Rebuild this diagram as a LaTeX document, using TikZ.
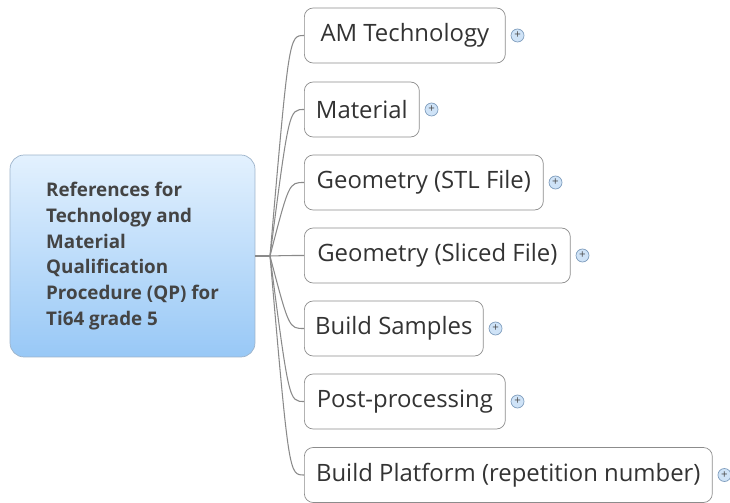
\documentclass[tikz,border=0pt]{standalone}
\usepackage{fontspec}
\setmainfont{Open Sans}
\usetikzlibrary{positioning}
\definecolor{rootedge}{HTML}{9DB3CA}
\definecolor{roottop}{HTML}{E3F1FE}
\definecolor{rootbot}{HTML}{98C8F6}
\definecolor{roottext}{HTML}{444444}
\definecolor{boxedge}{HTML}{8C8C8C}
\definecolor{linkgray}{HTML}{8A8A8A}
\definecolor{plusfill}{HTML}{CFE3F7}
\definecolor{plusedge}{HTML}{7F9DBD}

\begin{document}
\begin{tikzpicture}[
    x=0.02cm, y=-0.02cm,
    root/.style={draw=rootedge, rounded corners=8pt, top color=roottop, bottom color=rootbot, minimum width=4.9cm, minimum height=4.04cm, align=left, text=roottext, font=\fontsize{10.7}{14.7}\selectfont\bfseries},
    topic/.style={draw=boxedge, fill=white, rounded corners=5pt, minimum height=1.1cm, inner xsep=0.2cm, anchor=west, text=black!80, font=\fontsize{13.6}{16}\selectfont},
    plus/.style={circle, draw=plusedge, fill=plusfill, minimum size=0.26cm, inner sep=0pt, text=black!70, font=\fontsize{6.5}{6.5}\selectfont, right=0.1cm of #1},
    link/.style={draw=linkgray, line width=0.6pt},
]
\useasboundingbox (0,0) rectangle (730,503);

% Central topic
\node[root] (root) at (132.5,256) {References for\\Technology and\\Material\\Qualification\\Procedure (QP) for\\Ti64 grade 5};
\coordinate (hub) at (270,256);

% Subtopics
\node[topic, minimum width=4.02cm] (am) at (304,35.5) {AM Technology};
\node[topic, minimum width=2.3cm] (mat) at (304,109.5) {Material};
\node[topic, minimum width=4.78cm] (stl) at (304,182.5) {Geometry (STL File)};
\node[topic, minimum width=5.32cm] (slice) at (304,255.5) {Geometry (Sliced File)};
\node[topic, minimum width=3.58cm] (samp) at (304,328.5) {Build Samples};
\node[topic, minimum width=4.02cm] (post) at (304,401.5) {Post-processing};
\node[topic, minimum width=8.16cm] (plat) at (304,475) {Build Platform (repetition number)};

% Collapsed markers
\foreach \t in {am,mat,stl,slice,samp,post,plat}
  \node[plus=\t] (\t-plus) {+};

% Links
\draw[link] (root.east) -- (hub);
\foreach \t in {am,mat,stl,slice,samp,post,plat}
  \draw[link] (hub) .. controls ([xshift=-0.3cm]\t.west) .. (\t.west);

\end{tikzpicture}
\end{document}
